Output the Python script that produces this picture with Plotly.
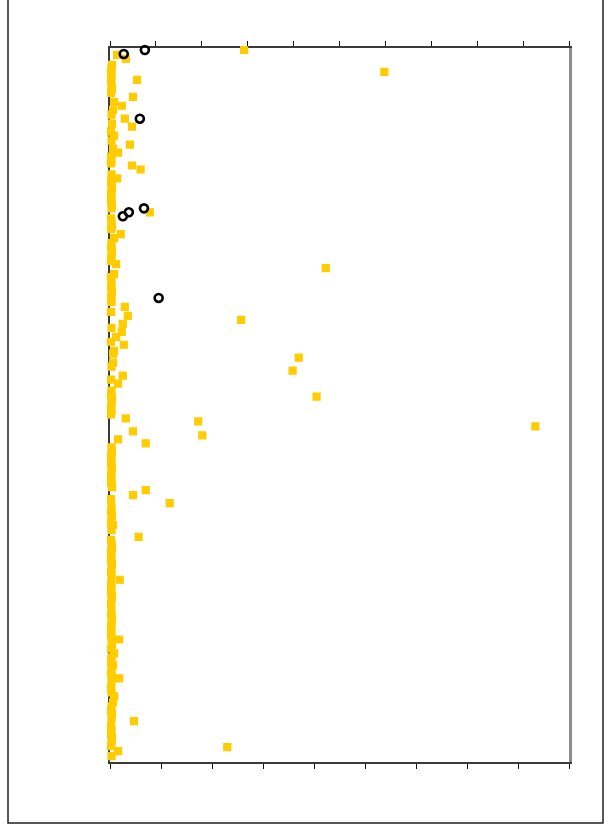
import plotly.graph_objects as go

# Scattered values (gold squares): concentration vs depth
sq_x = [26.3, 53.8, 5.3, 4.5, 2.3, 2.9, 4.3, 3.9, 4.3, 6.0,
        1.6, 1.4, 7.8, 2.1, 1.2, 42.3, 0.8, 2.9, 3.5, 25.7,
        2.5, 2.3, 1.2, 2.7, 37.0, 0.6, 35.8, 2.5, 1.6, 40.5,
        3.1, 17.3, 83.4, 4.5, 18.1, 1.6, 7.0, 7.0, 4.5, 11.7,
        0.6, 5.6, 1.9, 1.8, 1.8, 4.7, 23.0, 1.6, 1.4, 3.1]
sq_y = [2, 24, 32, 49, 58, 71, 79, 97, 118, 122,
        105, 131, 165, 187, 217, 221, 227, 260, 269, 273,
        277, 285, 290, 298, 311, 316, 324, 329, 337, 350,
        372, 375, 380, 385, 389, 393, 397, 444, 449, 457,
        479, 491, 534, 594, 633, 676, 702, 706, 7, 11]

# Near-zero values along the depth profile
low_y = [17, 20, 24, 28, 33, 37, 41, 45, 54, 62,
         67, 76, 84, 88, 93, 101, 109, 113, 116, 127,
         134, 138, 142, 146, 150, 154, 158, 161, 171, 175,
         179, 182, 191, 196, 200, 204, 208, 212, 214, 230,
         236, 240, 244, 248, 252, 255, 265, 281, 295, 304,
         307, 320, 333, 344, 348, 352, 356, 360, 364, 368,
         401, 405, 409, 413, 417, 421, 425, 429, 433, 437,
         441, 453, 461, 465, 469, 473, 477, 484, 494, 498,
         502, 506, 510, 514, 518, 522, 526, 530, 538, 542,
         546, 550, 554, 558, 565, 569, 573, 577, 581, 585,
         589, 593, 599, 603, 608, 612, 616, 620, 624, 628,
         632, 637, 643, 647, 651, 657, 661, 665, 669, 673,
         681, 685, 689, 693, 697, 701, 711]
low_x = [0.4, 0.3, 0.2, 0.3, 0.2, 0.3, 0.4, 0.2, 0.8, 0.6,
         0.3, 0.4, 0.2, 0.8, 0.3, 0.6, 0.2, 0.3, 0.2, 0.3,
         0.2, 0.3, 0.4, 0.2, 0.3, 0.2, 0.4, 0.3, 0.2, 0.3,
         0.4, 0.2, 0.8, 0.3, 0.2, 0.4, 0.3, 0.2, 0.3, 0.2,
         0.3, 0.2, 0.4, 0.3, 0.2, 0.3, 0.2, 0.3, 0.2, 0.8,
         0.6, 0.3, 0.2, 0.3, 0.2, 0.4, 0.3, 0.2, 0.3, 0.2,
         0.3, 0.4, 0.2, 0.3, 0.2, 0.4, 0.3, 0.2, 0.3, 0.2,
         0.4, 0.2, 0.3, 0.2, 0.4, 0.3, 0.2, 0.3, 0.2, 0.3,
         0.4, 0.2, 0.3, 0.2, 0.4, 0.3, 0.2, 0.3, 0.2, 0.3,
         0.2, 0.4, 0.3, 0.2, 0.3, 0.2, 0.4, 0.3, 0.2, 0.3,
         0.2, 0.3, 0.4, 0.2, 0.8, 0.3, 0.2, 0.6, 0.3, 0.2,
         0.4, 0.3, 0.2, 0.3, 0.8, 0.6, 0.3, 0.2, 0.4, 0.3,
         0.2, 0.3, 0.2, 0.4, 0.3, 0.2, 0.3]

# Second series (open circles) on the top scale
ci_x = [3.0, 7.6, 6.5, 4.1, 2.8, 7.4, 10.6]
ci_y = [6, 2, 71, 165, 169, 161, 251]

GOLD = "#FFCC00"
W, H = 610, 830
L, R, T, B = 110, 41, 48, 68

fig = go.Figure()
fig.add_trace(go.Scatter(
    x=low_x + sq_x, y=low_y + sq_y, mode="markers", xaxis="x", yaxis="y",
    marker=dict(symbol="square", size=7, color=GOLD, line=dict(color=GOLD, width=1.2)),
    cliponaxis=False, showlegend=False, hoverinfo="x+y"))
fig.add_trace(go.Scatter(
    x=ci_x, y=ci_y, mode="markers", xaxis="x2", yaxis="y",
    marker=dict(symbol="circle-open", size=8, color="#000000", line=dict(color="#000000", width=2.6)),
    cliponaxis=False, showlegend=False, hoverinfo="x+y"))
# empty trace so the right-hand axis line is drawn
fig.add_trace(go.Scatter(x=[], y=[], xaxis="x", yaxis="y2", showlegend=False,
                         hoverinfo="skip"))

ax_common = dict(showgrid=False, zeroline=False, showticklabels=False,
                 tickcolor="#111111", tickwidth=1.4, ticklen=5)
fig.update_layout(
    width=W, height=H, margin=dict(l=L, r=R, t=T, b=B),
    paper_bgcolor="white", plot_bgcolor="white",
    xaxis=dict(range=[0, 90], dtick=10, tick0=0, side="bottom", ticks="outside",
               showline=True, linecolor="#3a3a3a", linewidth=2, layer="below traces",
               **ax_common),
    xaxis2=dict(range=[0, 100], dtick=10, tick0=0, side="top", overlaying="x",
                ticks="outside", showline=True, linecolor="#3a3a3a", linewidth=2,
                layer="below traces", **ax_common),
    xaxis3=dict(range=[0, 90], dtick=10, tick0=0, side="bottom", overlaying="x",
                ticks="inside", showline=False, **ax_common),
    xaxis4=dict(range=[0, 100], dtick=10, tick0=0, side="top", overlaying="x",
                ticks="inside", showline=False, **ax_common),
    yaxis=dict(range=[717, 0], showgrid=False, zeroline=False, showticklabels=False,
               ticks="", showline=True, linecolor="#3a3a3a", linewidth=2,
               layer="below traces"),
    yaxis2=dict(range=[717, 0], overlaying="y", side="right", showgrid=False,
                zeroline=False, showticklabels=False, ticks="", showline=True,
                linecolor="#8c8c8c", linewidth=3, layer="below traces"),
)

# Outer frame around the chart
pw, ph = W - L - R, H - T - B
fig.add_shape(type="rect", xref="paper", yref="paper",
              x0=(8 - L) / pw, x1=(603 - L) / pw,
              y0=(H - B - 823) / ph, y1=(H - B + 1) / ph,
              line=dict(color="#222222", width=1.5), fillcolor="rgba(0,0,0,0)", layer="below")

fig.write_html("out.html")
